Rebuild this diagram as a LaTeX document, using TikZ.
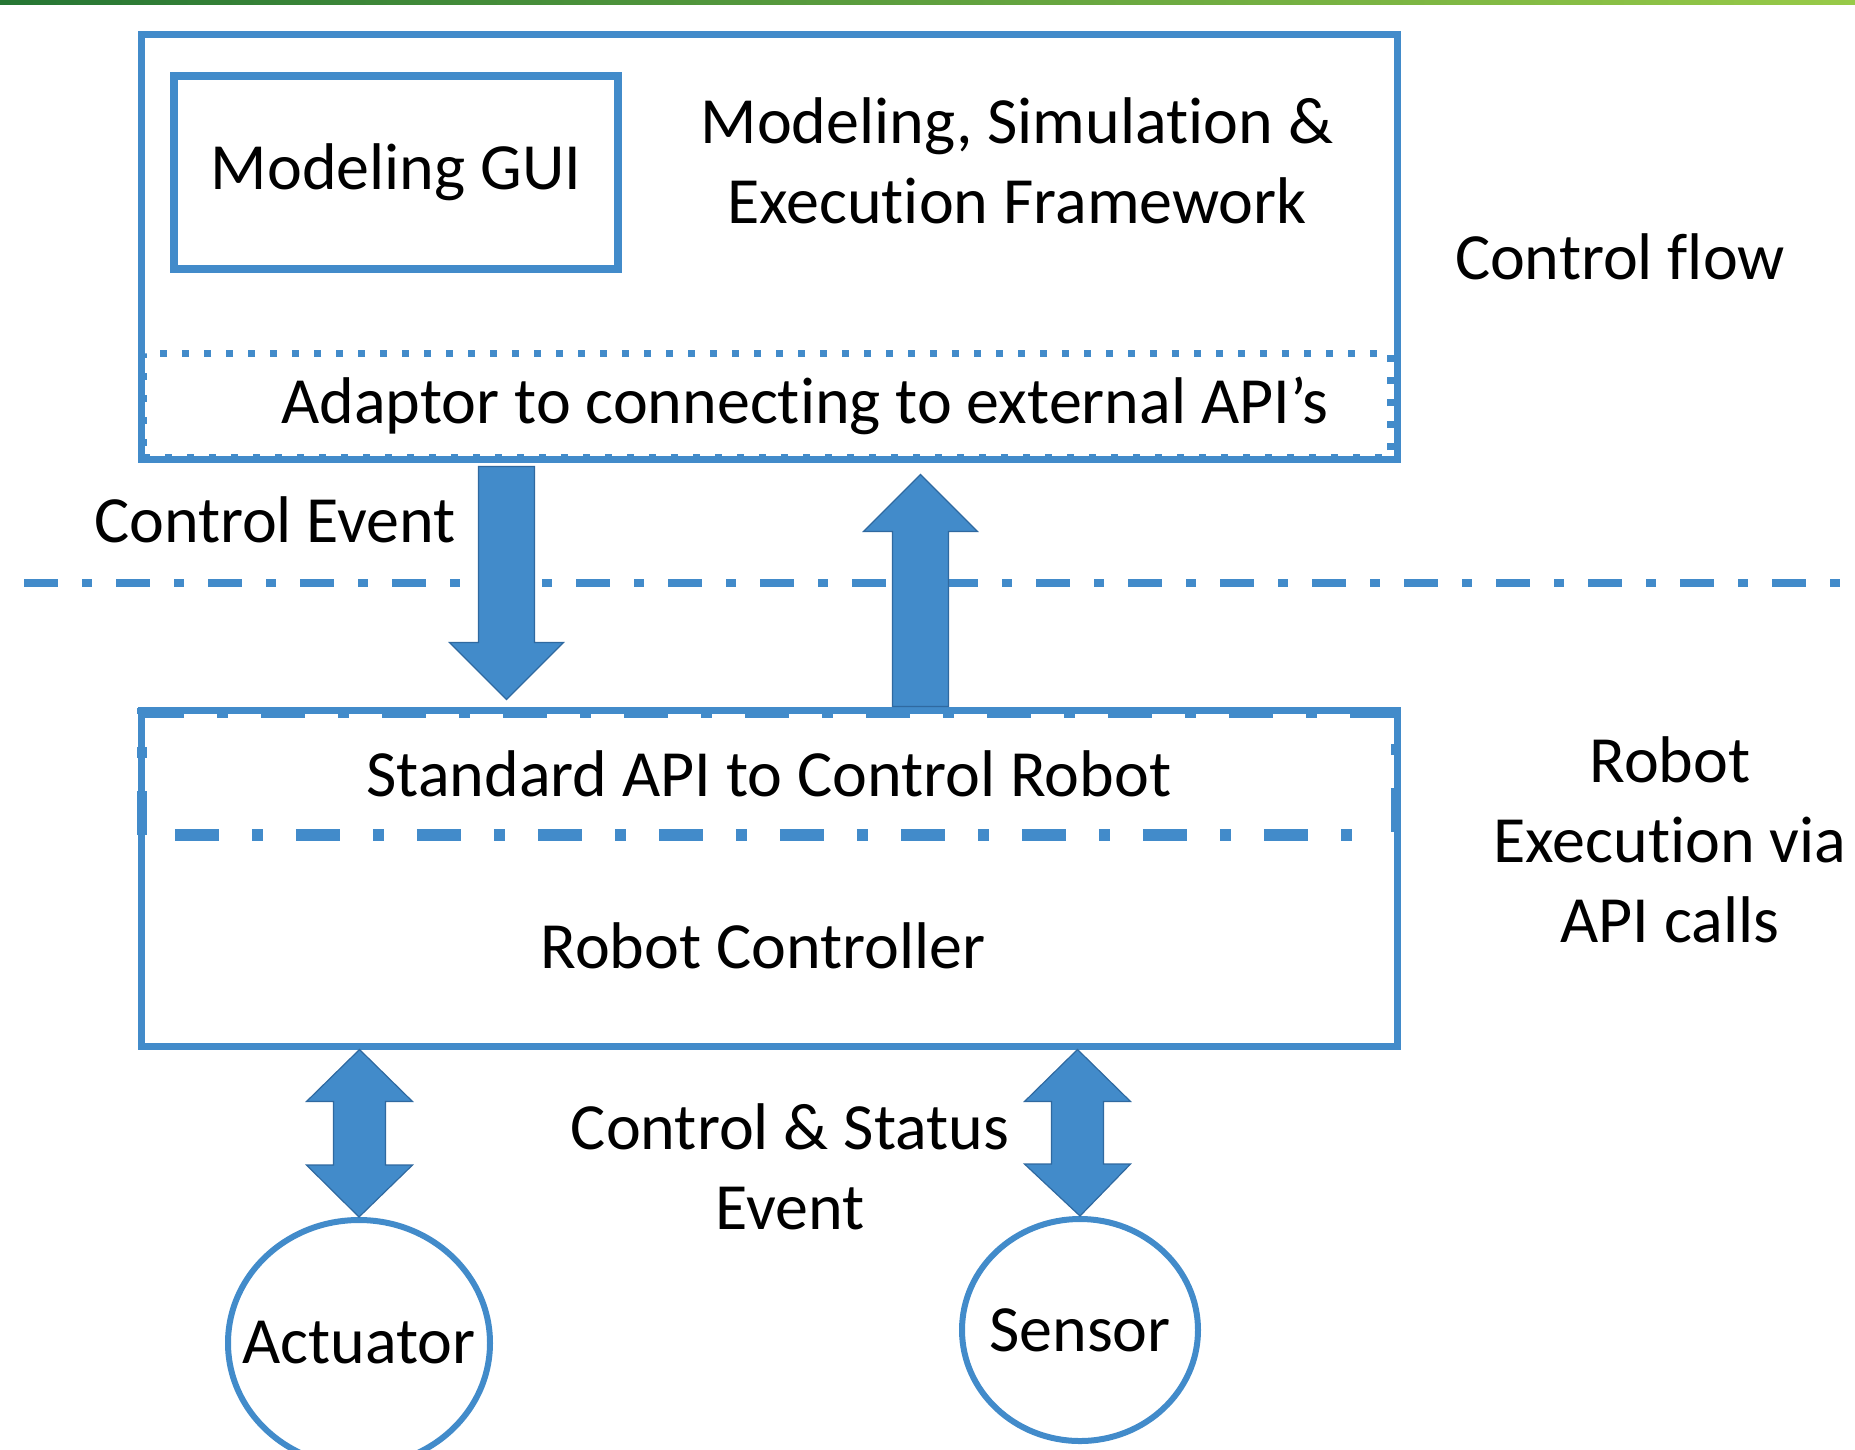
\documentclass[tikz,border=0pt]{standalone}
\usepackage{fontspec}
\setmainfont{Carlito}[Ligatures=CommonOff, RawFeature={-calt;-clig}]
\usetikzlibrary{positioning, shapes.geometric, calc}

\definecolor{boxblue}{RGB}{66,139,202}
\definecolor{edgeblue}{RGB}{47,105,160}
\definecolor{darkgreen}{RGB}{38,118,52}
\definecolor{lightgreen}{RGB}{152,202,72}

\begin{document}
\begin{tikzpicture}[x=1pt, y=-1pt, font=\fontsize{66}{80}\selectfont,
	box/.style={draw=boxblue, line width=7pt, inner sep=0pt},
	dotbox/.style={draw=boxblue, line width=7pt, dash pattern=on 7pt off 15pt, inner sep=0pt},
	circ/.style={ellipse, draw=boxblue, line width=6pt, inner sep=0pt},
	lbl/.style={inner sep=0pt, align=center},
	dashdot/.style={draw=boxblue, line width=#1, dash pattern=on 44pt off 33pt on 11pt off 33pt},
	sepline/.style={draw=boxblue, line width=8pt, dash pattern=on 34pt off 24pt on 10pt off 24pt},
	fat/.style={fill=boxblue, draw=edgeblue, line width=1.2pt, to path={
		let \p1=(\tikztostart), \p2=(\tikztotarget), \p3=($(\tikztotarget)!57pt!(\tikztostart)$) in
		(\x1-28pt,\y1) -- (\x1-28pt,\y3) -- (\x1-57pt,\y3) -- (\x2,\y2)
		-- (\x1+57pt,\y3) -- (\x1+28pt,\y3) -- (\x1+28pt,\y1) -- cycle}},
	dfat/.style={fill=boxblue, draw=edgeblue, line width=1.2pt, to path={
		let \p1=(\tikztostart), \p2=(\tikztotarget), \p3=($(\tikztotarget)!52pt!(\tikztostart)$),
		\p4=($(\tikztostart)!52pt!(\tikztotarget)$) in
		(\x1,\y1) -- (\x1+53pt,\y4) -- (\x1+26pt,\y4) -- (\x1+26pt,\y3) -- (\x1+53pt,\y3) -- (\x2,\y2)
		-- (\x1-53pt,\y3) -- (\x1-26pt,\y3) -- (\x1-26pt,\y4) -- (\x1-53pt,\y4) -- cycle}}]

	\clip (0,0) rectangle (1855,1449);
	\shade[left color=darkgreen, right color=lightgreen] (0,0) rectangle (1855,4);

	\node[dotbox, minimum width=1247pt, minimum height=104pt] (adaptor) at (766.5,405) {};
	\node[box, minimum width=1256pt, minimum height=425pt] (frame) at (769,246.5) {};
	\node[box, line width=8pt, minimum width=444pt, minimum height=193pt] (gui) at (396,172.5) {Modeling GUI};
	\node[lbl] (msef) at (1017,161) {Modeling, Simulation \&\\Execution Framework};
	\node[lbl] (adaptorlbl) at (805,406) {Adaptor to connecting to external API’s};
	\node[lbl] (flow) at (1620,257) {Control flow};
	\node[lbl] (event) at (275,520) {Control Event};

	\draw[sepline] (24,583) -- (1855,583);

	\node[lbl, minimum width=1254pt, minimum height=122pt] (api) at (769,774) {Standard API to Control Robot};
	\draw[dashdot=10pt] (api.south west) |- (api.north east) -- (api.south east);
	\draw[dashdot=12pt] ([xshift=33pt]api.south west) -- ([xshift=-36pt]api.south east);
	\node[box, minimum width=1256pt, minimum height=336pt] (robot) at (769,878) {};
	\node[lbl] (ctrl) at (763,946) {Robot Controller};
	\node[lbl] (exec) at (1670,840) {Robot\\Execution via\\API calls};
	\node[lbl] (status) at (790,1167) {Control \& Status\\Event};

	\node[circ, minimum width=262pt, minimum height=246pt, label=center:Actuator] (act) at (359,1343) {};
	\node[circ, minimum width=236pt, minimum height=222pt, label=center:Sensor] (sens) at (1080,1330) {};

	\draw[fat] ([xshift=369pt,yshift=-4pt]frame.south west) to ([xshift=369pt,yshift=7pt]robot.north west);
	\draw[fat] ([xshift=783pt]robot.north west) to ([xshift=783pt,yshift=-12pt]frame.south west);
	\draw[dfat] ([xshift=222pt]robot.south west) to (act.north);
	\draw[dfat] ([xshift=940pt]robot.south west) to (sens.north);

\end{tikzpicture}
\end{document}
